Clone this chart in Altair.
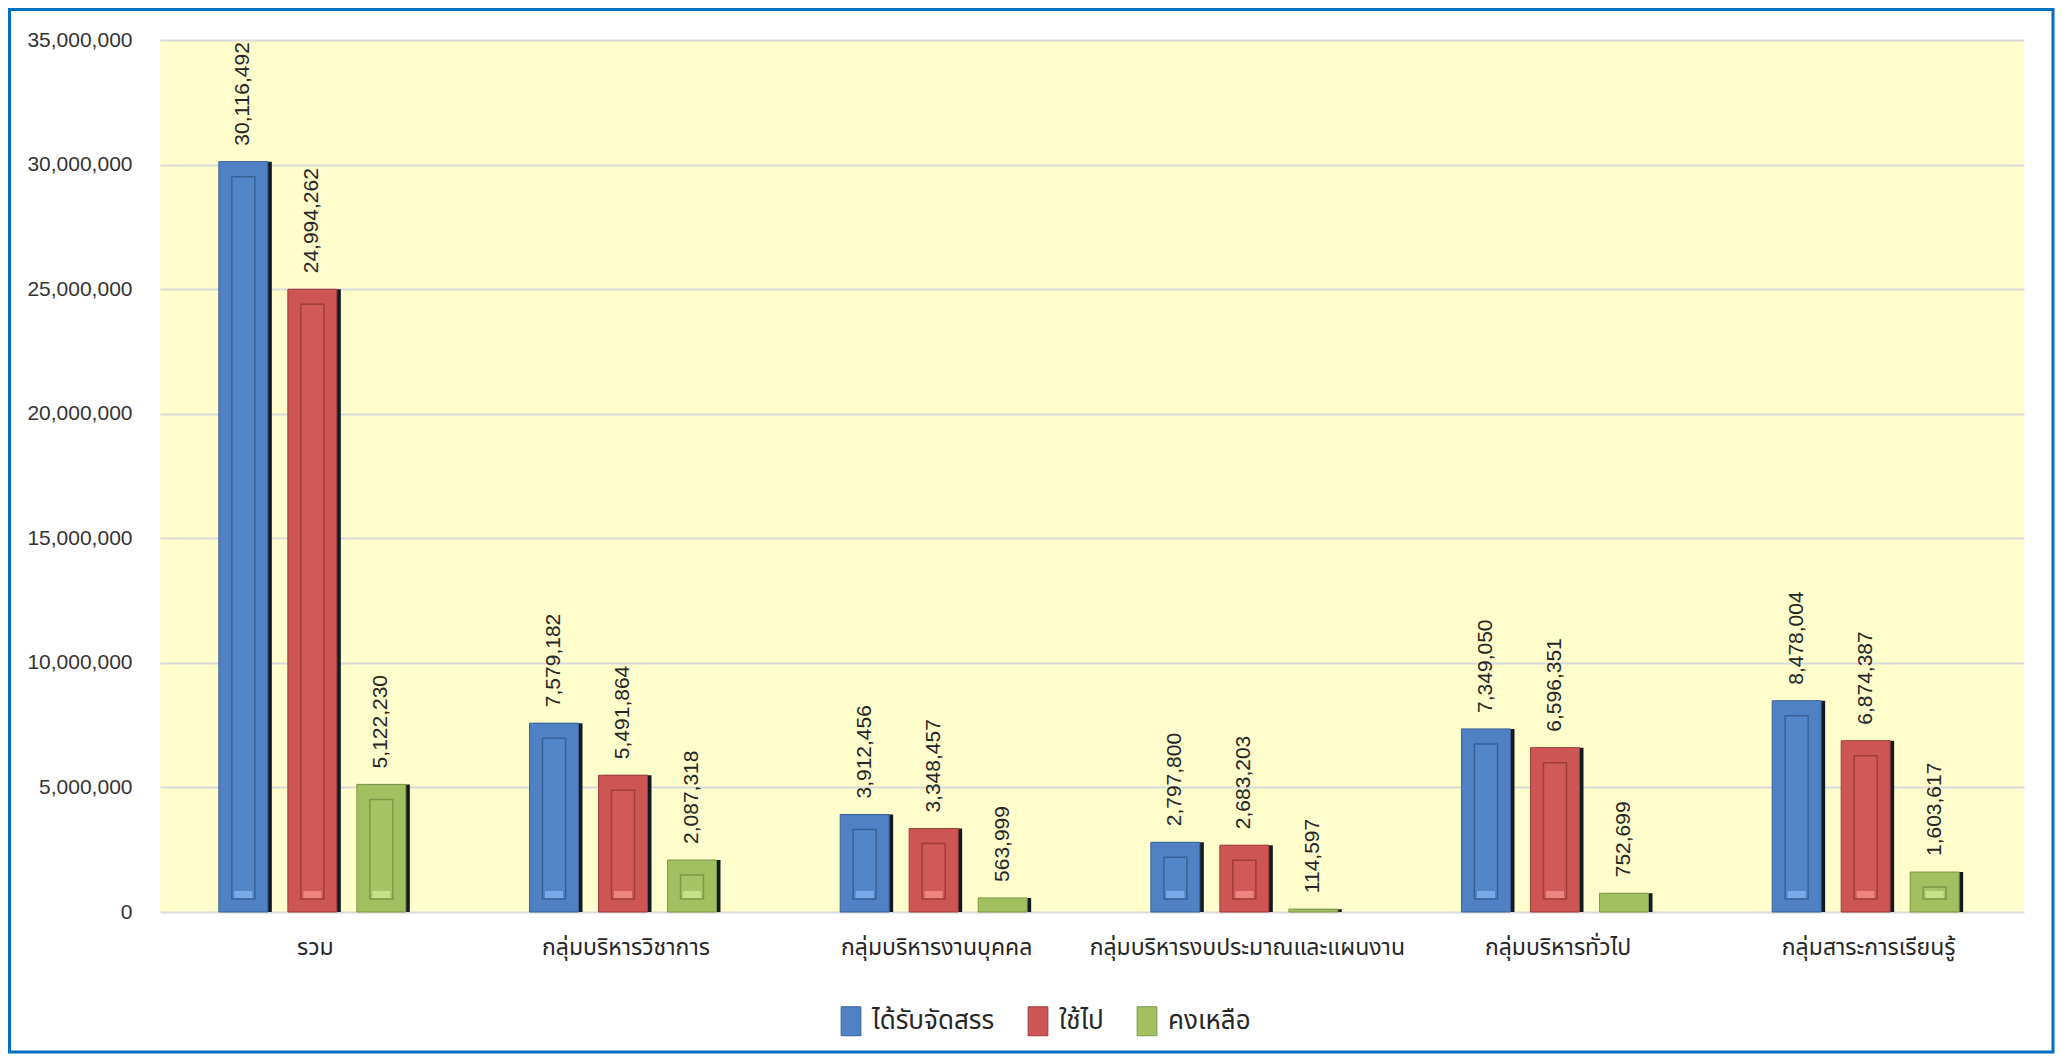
import altair as alt
import pandas as pd

categories = ["รวม", "กลุ่มบริหารวิชาการ", "กลุ่มบริหารงานบุคคล",
              "กลุ่มบริหารงบประมาณและแผนงาน", "กลุ่มบริหารทั่วไป", "กลุ่มสาระการเรียนรู้"]
series = ["ได้รับจัดสรร", "ใช้ไป", "คงเหลือ"]
allocated = [30116492, 7579182, 3912456, 2797800, 7349050, 8478004]
used = [24994262, 5491864, 3348457, 2683203, 6596351, 6874387]
remaining = [5122230, 2087318, 563999, 114597, 752699, 1603617]
y_ticks = [0, 5000000, 10000000, 15000000, 20000000, 25000000, 30000000, 35000000]

rows = []
for i, c in enumerate(categories):
    for s, vals in zip(series, [allocated, used, remaining]):
        rows.append({"category": c, "series": s, "value": vals[i]})
df = pd.DataFrame(rows)

W, H = 1864, 872
outer_cols = ["#4f81c4", "#cd5553", "#a2c060"]
inner_cols = ["#5386c9", "#d15957", "#a6c464"]
edge_cols = ["#3a6298", "#9e3f3d", "#7d9846"]
glow_cols = ["#78aaea", "#ee8482", "#c4e286"]

NUM_FONT = "Liberation Sans"
THAI_FONT = "Noto Sans Thai, Tahoma, Noto Sans, sans-serif"

x_enc = alt.X("category:N", sort=categories,
              scale=alt.Scale(paddingInner=0.3337, paddingOuter=0.16685),
              axis=alt.Axis(title=None, labelAngle=0, labelFont=THAI_FONT, labelFontSize=23,
                            labelColor="#262626", labelPadding=24, labelLimit=0,
                            ticks=False, domain=False, grid=False))
y_enc = alt.Y("value:Q", scale=alt.Scale(domain=[0, 35000000], nice=False),
              axis=alt.Axis(title=None, values=y_ticks, format=",.0f", labelFont=NUM_FONT,
                            labelFontSize=21, labelColor="#333333", labelPadding=28,
                            ticks=False, domain=False, grid=True, gridColor="#d9d9d9",
                            gridWidth=2))


def xoff(rng):
    return alt.XOffset("series:N", sort=series,
                       scale=alt.Scale(type="band", domain=series, range=rng,
                                       paddingInner=0.29, paddingOuter=0.145))


def series_scale(rng):
    return alt.Scale(domain=series, range=rng)


base = alt.Chart(df)

shadow = base.mark_bar(color="#141a22").encode(
    x=x_enc, y=y_enc, xOffset=xoff([1, 208]))

main = base.mark_bar(strokeWidth=1).encode(
    x=x_enc, y=y_enc, xOffset=xoff([-3, 204]),
    color=alt.Color("series:N", sort=series, scale=series_scale(outer_cols),
                    legend=alt.Legend(title=None, orient="none", direction="horizontal",
                                      legendX=676, legendY=966,
                                      symbolType="M-0.68,-1H0.68V1H-0.68Z", symbolSize=841,
                                      symbolStrokeColor="#222222", symbolStrokeWidth=1,
                                      labelFont=THAI_FONT, labelFontSize=26,
                                      labelColor="#262626", labelOffset=6,
                                      columnPadding=28)),
    stroke=alt.Stroke("series:N", sort=series, scale=series_scale(edge_cols), legend=None))

inner = base.mark_bar(width=23, yOffset=15, y2Offset=-13, strokeWidth=1.5).encode(
    x=x_enc, y=y_enc, y2=alt.datum(0), xOffset=xoff([-3, 204]),
    fill=alt.Fill("series:N", sort=series, scale=series_scale(inner_cols), legend=None),
    stroke=alt.Stroke("series:N", sort=series, scale=series_scale(edge_cols), legend=None)
).transform_filter("datum.value > 1200000")

glow = base.mark_bar(width=18, yOffset=-21, y2Offset=-14).encode(
    x=x_enc, y=alt.datum(0), y2=alt.datum(0), xOffset=xoff([-3, 204]),
    fill=alt.Fill("series:N", sort=series, scale=series_scale(glow_cols), legend=None)
).transform_filter("datum.value > 1200000")

labels = base.mark_text(angle=270, align="left", baseline="middle", dx=16,
                        font=NUM_FONT, fontSize=21, color="#262626").encode(
    x=x_enc, y=y_enc,
    xOffset=alt.XOffset("series:N", sort=series,
                        scale=alt.Scale(type="point", domain=series, range=[-3, 204],
                                        padding=0.5)),
    text=alt.Text("value:Q", format=",")
)

frame = alt.Chart(pd.DataFrame({"a": [0]})).mark_rect(
    filled=False, stroke="#0070c0", strokeWidth=3).encode(
    x=alt.value(-150.5), x2=alt.value(1893), y=alt.value(-30.5), y2=alt.value(1012))

chart = alt.layer(frame, shadow, main, inner, glow, labels).resolve_scale(
    xOffset="independent", fill="independent"
).properties(
    width=W, height=H,
    autosize=alt.AutoSizeParams(type="none"),
    padding={"left": 152, "top": 32, "right": 31, "bottom": 142},
).configure_view(fill="#fffdcc", stroke=None)

chart.save("out.html", embed_options={"renderer": "svg", "actions": False})
